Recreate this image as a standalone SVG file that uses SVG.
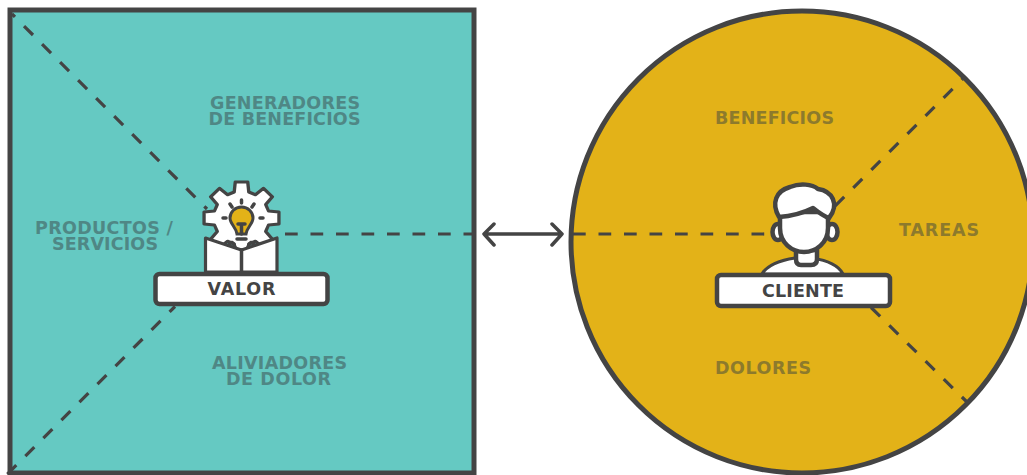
<svg xmlns="http://www.w3.org/2000/svg" width="1027" height="475" viewBox="0 0 1027 475">
<style>
.ln{fill:none;stroke:#444;stroke-width:3.5;stroke-linejoin:round;stroke-linecap:round}
.dash{fill:none;stroke:#444;stroke-width:3.2;stroke-dasharray:12.700 12.800}
.wh{fill:#fff;stroke:#444;stroke-width:3.200;stroke-linejoin:round}
.hd{fill:#fff;stroke:#444;stroke-width:4.500;stroke-linejoin:round}
.box{fill:#fff;stroke:#444;stroke-width:4.500}
text{font-family:"DejaVu Sans","Liberation Sans",sans-serif;font-weight:700;font-size:17.500px;text-anchor:middle}
.t{fill:#4f8785}
.y{fill:#8d7a2c}
.lb{fill:#444}
</style>
<rect width="1027" height="475" fill="#fff"/>
<g id="propuesta">
<rect x="10" y="10" width="464" height="463" fill="#65c9c2" stroke="#444" stroke-width="5"/>
<text class="t" x="285" y="109" textLength="150">GENERADORES</text>
<text class="t" x="284.500" y="125" textLength="152">DE BENEFICIOS</text>
<text class="t" x="104" y="233.500" textLength="138">PRODUCTOS /</text>
<text class="t" x="105" y="250" textLength="106">SERVICIOS</text>
<text class="t" x="279.500" y="368.500" textLength="135">ALIVIADORES</text>
<text class="t" x="278.500" y="385" textLength="105">DE DOLOR</text>
</g>
<g id="segmento">
<circle cx="802" cy="242" r="231" fill="#e3b218" stroke="#444" stroke-width="5"/>
<text class="y" x="774.500" y="124" textLength="119">BENEFICIOS</text>
<text class="y" x="939" y="236" textLength="80">TAREAS</text>
<text class="y" x="763" y="373.500" textLength="96">DOLORES</text>
</g>
<g id="connectors">
<path class="dash" stroke-dashoffset="8.500" d="M12 14L207 209"/>
<path class="dash" d="M7.300 474.200L175 306.500"/>
<path class="dash" d="M285 234H472"/>
<path class="dash" d="M573 234H775"/>
<path class="dash" d="M835.200 205.800L962.500 79"/>
<path class="dash" d="M871.100 307.500L969 404"/>
<path class="ln" d="M484 234H562M494 224L484 234L494 245M552 224L562 234L552 245"/>
</g>
<g id="valor">
<path class="wh" transform="translate(241.500 218) scale(1.04 1)" d="M-7-26L-6-36L6-36L7-26L13.400-23.300L21.200-29.700L29.700-21.200L23.300-13.400L26-7L36-6L36 6L26 7L23.300 13.400L29.700 21.200L21.200 29.700L13.400 23.300L7 26L6 36L-6 36L-7 26L-13.400 23.300L-21.200 29.700L-29.700 21.200L-23.300 13.400L-26 7L-36 6L-36-6L-26-7L-23.300-13.400L-29.700-21.200L-21.200-29.700L-13.400-23.300Z"/>
<path class="ln" stroke-width="2.500" d="M241.500 200V203M230 204L232 207M254 204L252 207M223 218H226M263 218H260"/>
<path d="M241.500 207C235 207 230 212 230 218C230 224 236 227 237 234H246C247 227 253 224 253 218C253 212 248 207 241.500 207Z" fill="#e3b218" stroke="#444" stroke-width="3"/>
<path class="ln" stroke-width="2" d="M238 224H245M241.500 224V234M237 239H246"/>
<path class="wh" d="M205.500 238L241.500 250L277 238V272H205.500Z"/>
<path class="ln" stroke-width="3" d="M241.500 250V272"/>
<path class="ln" stroke-width="2.500" d="M229 245Q232 239 235 247M248 247Q251 239 254 245"/>
<rect class="box" x="155.500" y="274" width="172" height="30" rx="4"/>
<text class="lb" x="241.500" y="295" textLength="68">VALOR</text>
</g>
<g id="cliente">
<path class="wh" d="M762 274C768 264 782 260 795 258H812C825 260 838 264 843 274Z"/>
<path class="hd" d="M796 250V259Q796 265 801 265H811Q817 265 817 259V250Z"/>
<ellipse class="hd" cx="778" cy="232" rx="5.500" ry="8"/>
<ellipse class="hd" cx="832" cy="232" rx="5.500" ry="8"/>
<path class="hd" d="M780 212V228C780 243 792 252 804 252C816 252 828 243 828 228V212Z"/>
<path class="hd" d="M779 217C771 203 776 191 790 187C800 183 812 184 818 189C832 191 840 204 829 218C823 216 818 212 813 208C805 212 794 216 779 217Z"/>
<rect class="box" x="717" y="275" width="173" height="31" rx="4"/>
<text class="lb" x="803" y="296.500" textLength="82">CLIENTE</text>
</g>
</svg>
